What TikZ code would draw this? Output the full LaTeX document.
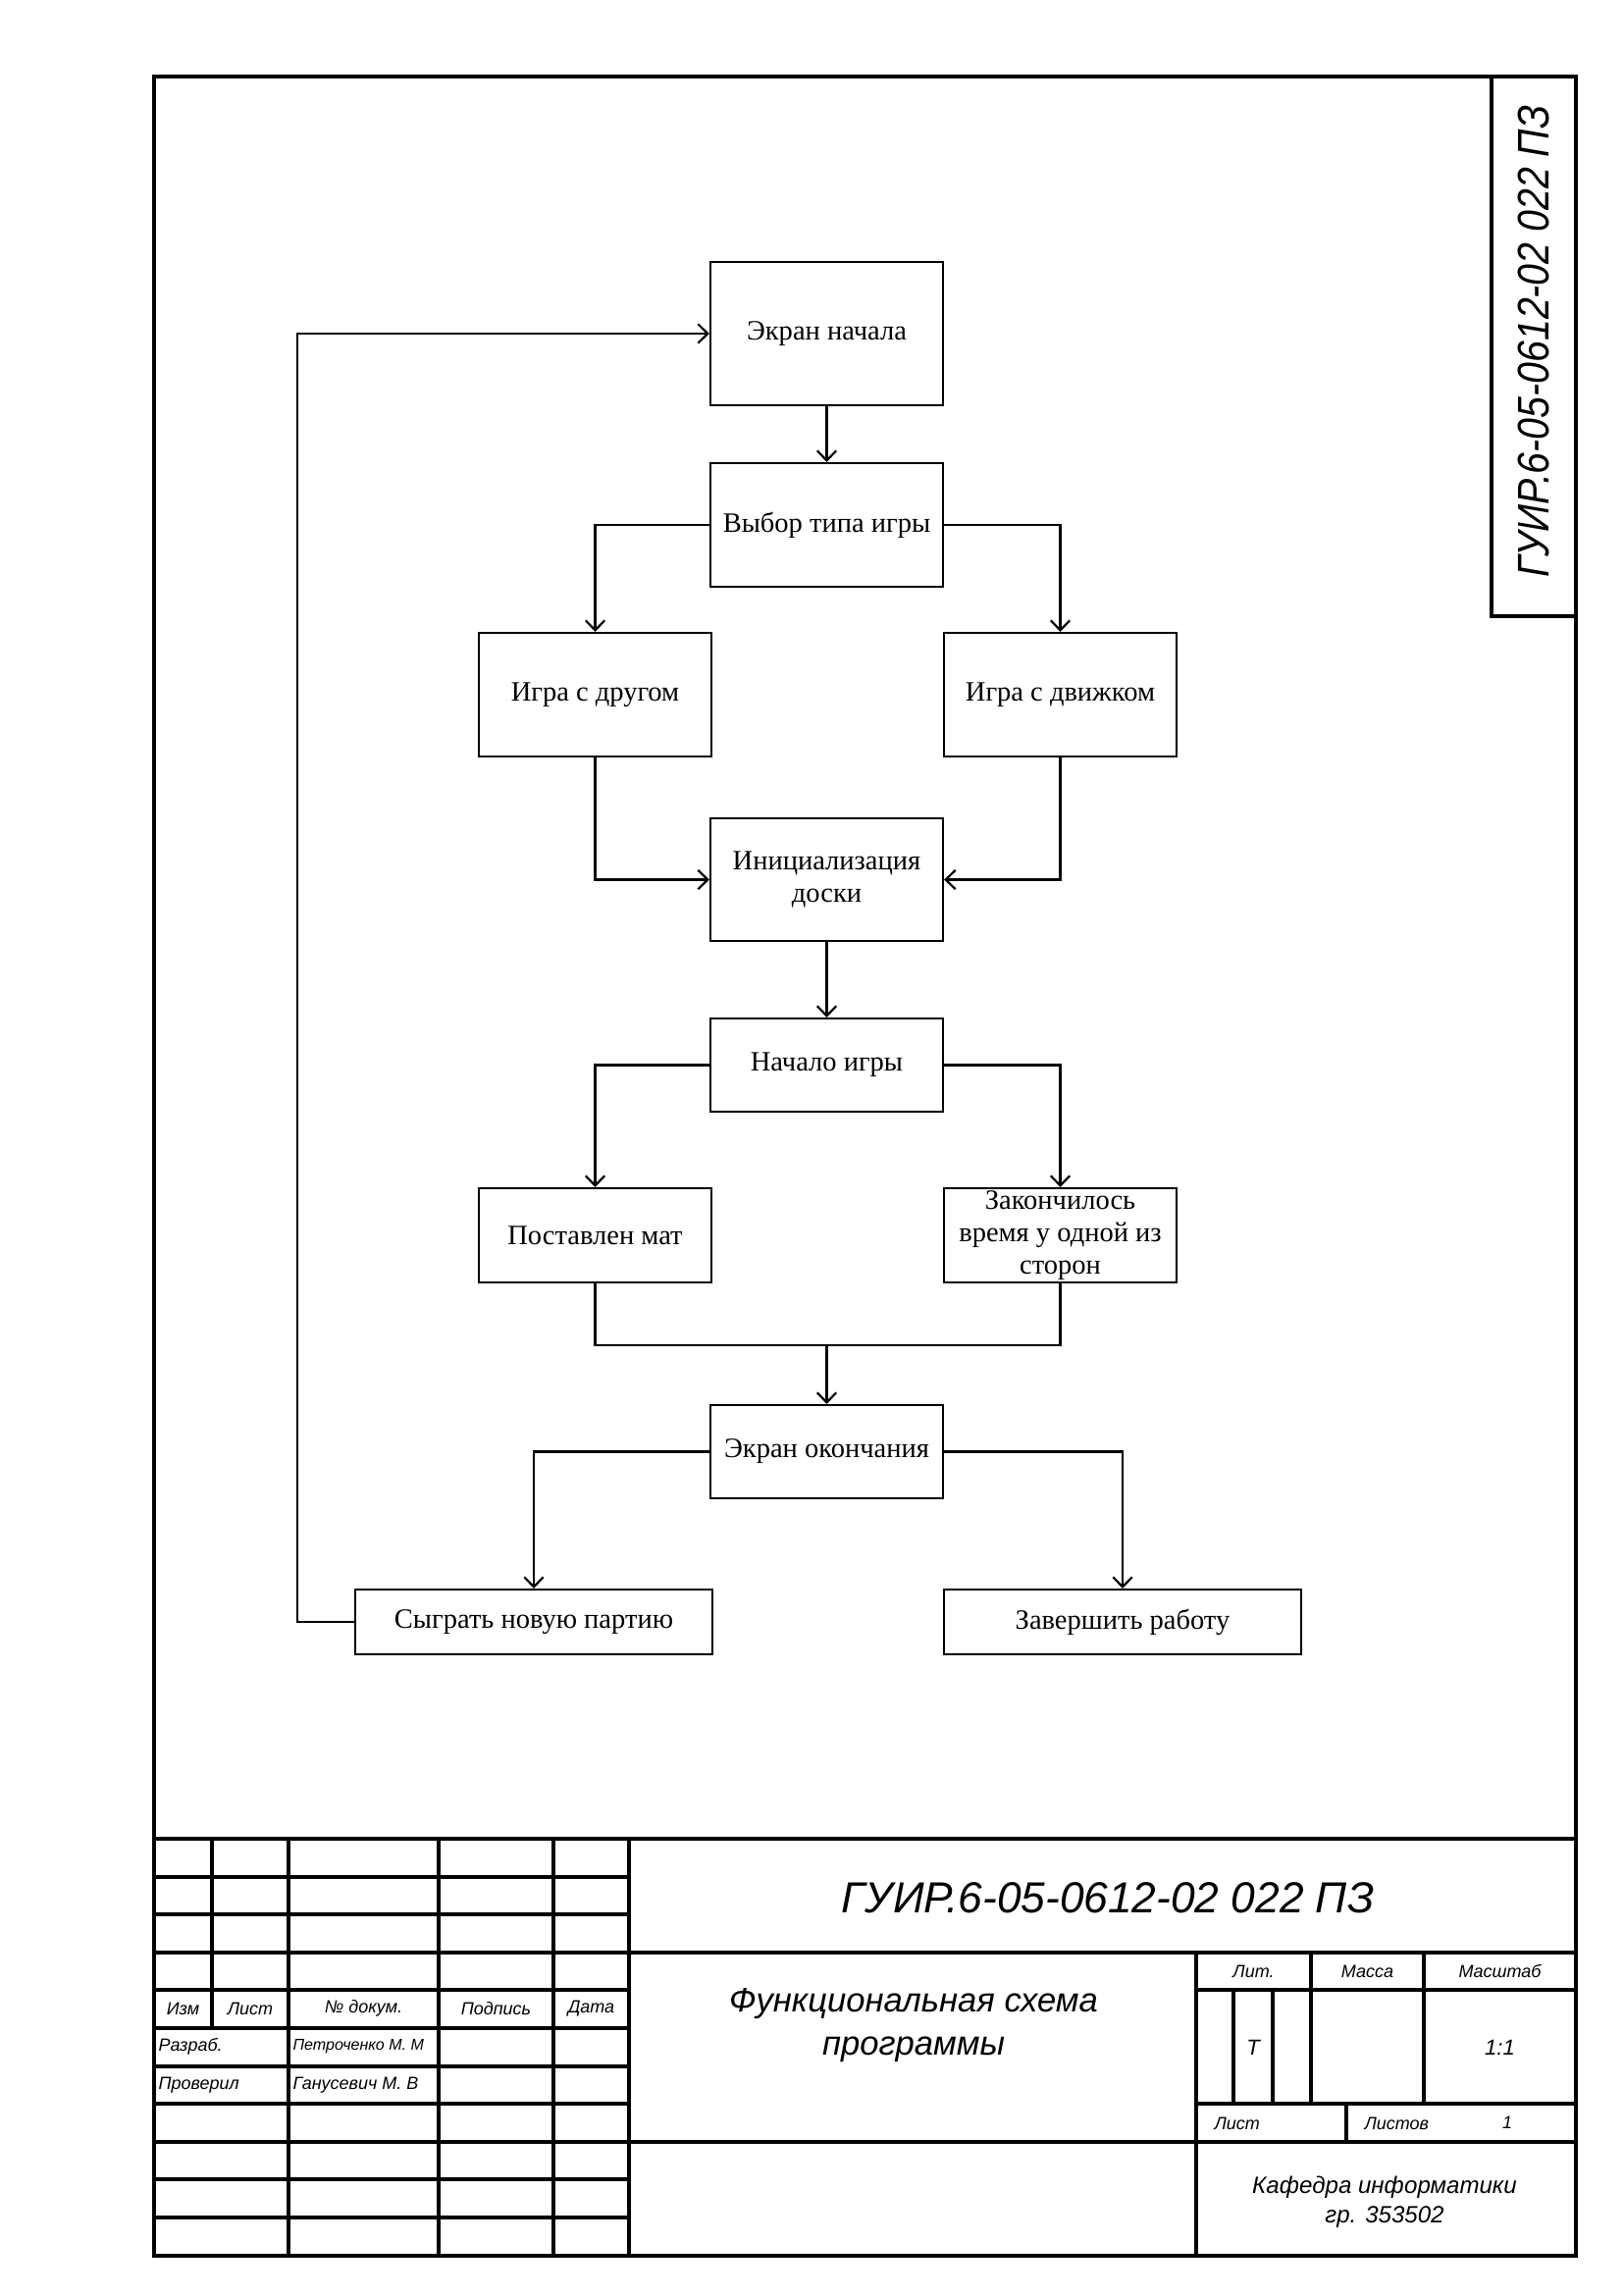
\documentclass[tikz,border=0pt]{standalone}
\usepackage{graphicx}
\usepackage{fontspec}
\setmainfont{Liberation Serif}
\newfontfamily\gostfont{Liberation Sans}
\usetikzlibrary{arrows.meta}
\newcommand\pxl{0.126965mm}

\begin{document}
\begin{tikzpicture}[x=0.126965mm, y=-0.126965mm,
  box/.style={draw, line width=0.8pt, inner sep=1pt, align=center,
    font=\fontsize{10.3}{12}\selectfont},
  flow/.style={line width=0.8pt, -{Straight Barb[length=3.6pt,width=7pt]}},
  link/.style={line width=0.8pt},
  frame/.style={line width=1.2pt},
  gost/.style={font=\gostfont\itshape\fontsize{#1}{#1}\selectfont, inner sep=0pt},
]
\useasboundingbox (0,0) rectangle (1654,2339);

% ---------- sheet frame ----------
\draw[frame] (157,78) rectangle (1606,2299);
% side stamp with the document code
\draw[frame] (1520,78) -- (1520,628) -- (1606,628);
\node[gost=16.3, rotate=90] (sidecode) at (1563,348)
  {\scalebox{0.87}[1]{ГУИР.6-05-0612-02 022 ПЗ}};

% ---------- flowchart boxes ----------
\node[box, minimum width=237*\pxl, minimum height=146*\pxl] (start) at (842.5,340) {Экран начала};
\node[box, minimum width=237*\pxl, minimum height=126*\pxl] (choose) at (842.5,535) {Выбор типа игры};
\node[box, minimum width=237*\pxl, minimum height=126*\pxl] (friend) at (606.5,708) {Игра с другом};
\node[box, minimum width=237*\pxl, minimum height=126*\pxl] (engine) at (1080.5,708) {Игра с движком};
\node[box, minimum width=237*\pxl, minimum height=125*\pxl] (init) at (842.5,896.5) {Инициализация\\доски};
\node[box, minimum width=237*\pxl, minimum height=95*\pxl] (game) at (842.5,1085.5) {Начало игры};
\node[box, minimum width=237*\pxl, minimum height=96*\pxl] (mate) at (606.5,1259) {Поставлен мат};
\node[box, minimum width=237*\pxl, minimum height=96*\pxl, inner sep=0pt] (timeout) at (1080.5,1259)
  {Закончилось\\время у одной из\\сторон};
\node[box, minimum width=237*\pxl, minimum height=95*\pxl] (finish) at (842.5,1479.5) {Экран окончания};
\node[box, minimum width=364*\pxl, minimum height=66*\pxl] (again) at (544,1653) {Сыграть новую партию};
\node[box, minimum width=364*\pxl, minimum height=66*\pxl] (quit) at (1144,1653) {Завершить работу};

\coordinate (merge) at (842.5,1371);
\coordinate (loop) at (303,1653);

% ---------- connectors ----------
\draw[flow] (start) -- (choose);
\draw[flow] (choose.west) -| (friend.north);
\draw[flow] (choose.east) -| (engine.north);
\draw[flow] (friend.south) |- (init.west);
\draw[flow] (engine.south) |- (init.east);
\draw[flow] (init) -- (game);
\draw[flow] (game.west) -| (mate.north);
\draw[flow] (game.east) -| (timeout.north);
\draw[link] (mate.south) |- (merge) -| (timeout.south);
\draw[flow] (merge) -- (finish.north);
\draw[flow] (finish.west) -| (again.north);
\draw[flow] (finish.east) -| (quit.north);
\draw[flow] (again.west) -- (loop) |- (start.west);

% ---------- title block grid ----------
\draw[frame] (157,1874) -- (1606,1874);
\foreach \yy in {1913,1951,1990,2028,2067,2106,2144,2183,2221,2260}
  \draw[frame] (157,\yy) -- (641,\yy);
\draw[frame] (216,1874) -- (216,2067);
\foreach \xx in {294,447,564,641}
  \draw[frame] (\xx,1874) -- (\xx,2299);
\draw[frame] (641,1990) -- (1606,1990);
\draw[frame] (641,2183) -- (1606,2183);
\draw[frame] (1219,1990) -- (1219,2299);
\draw[frame] (1219,2028) -- (1606,2028);
\draw[frame] (1219,2144) -- (1606,2144);
\draw[frame] (1257,2028) -- (1257,2144);
\draw[frame] (1297,2028) -- (1297,2144);
\draw[frame] (1336,1990) -- (1336,2144);
\draw[frame] (1451,1990) -- (1451,2144);
\draw[frame] (1372,2144) -- (1372,2183);

% ---------- title block texts ----------
\node[gost=6.5] (tIzm) at (186.5,2047) {Изм};
\node[gost=6.5] (tList) at (255,2047) {Лист};
\node[gost=6.5] (tDoc) at (370.5,2047) {№ докум.};
\node[gost=6.5] (tSign) at (505.5,2047) {Подпись};
\node[gost=6.5] (tDate) at (602.5,2047) {Дата};
\node[gost=6.5, anchor=west] (tDev) at (161,2086) {Разраб.};
\node[gost=5.8, anchor=west] (tDevName) at (298,2086) {Петроченко М. М};
\node[gost=6.5, anchor=west] (tChk) at (161,2125) {Проверил};
\node[gost=6.5, anchor=west] (tChkName) at (298,2125) {Ганусевич М. В};

\node[gost=16] (code) at (1129,1934) {ГУИР.6-05-0612-02 022 ПЗ};
\node[gost=12.5, align=center, font=\gostfont\itshape\fontsize{12.5}{16}\selectfont] (title) at (931,2064)
  {Функциональная схема\\программы};

\node[gost=6.5] (tLit) at (1277.5,2009) {Лит.};
\node[gost=6.5] (tMass) at (1393.5,2009) {Масса};
\node[gost=6.5] (tScale) at (1528.5,2009) {Масштаб};
\node[gost=8] (tLetter) at (1277,2087) {Т};
\node[gost=8] (tRatio) at (1528.5,2087) {1:1};
\node[gost=6.5, anchor=west] (tSheet) at (1237,2164) {Лист};
\node[gost=6.5, anchor=west] (tSheets) at (1390,2164) {Листов};
\node[gost=6.5] (tSheetsNum) at (1536,2163) {1};
\node[gost=8.7, align=center, font=\gostfont\itshape\fontsize{8.7}{10.8}\selectfont] (dept) at (1411,2244)
  {Кафедра информатики\\гр. 353502};
\end{tikzpicture}
\end{document}
